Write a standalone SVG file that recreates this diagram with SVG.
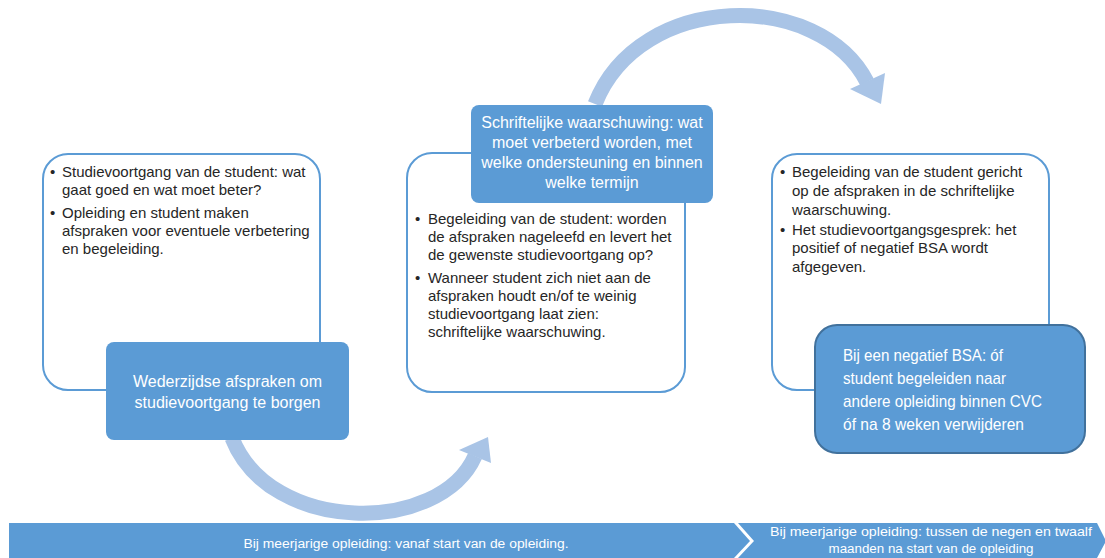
<svg xmlns="http://www.w3.org/2000/svg" width="1105" height="558" viewBox="0 0 1105 558">
<style>
.outline{fill:#fff;stroke:#5b9bd5;stroke-width:2}
.blue{fill:#5b9bd5}
.blue3{fill:#5b9bd5;stroke:#41719c;stroke-width:2}
.body{font-family:"Liberation Sans",Arial,sans-serif;font-size:15px;fill:#262626}
.wt{font-family:"Liberation Sans",Arial,sans-serif;font-size:16px;fill:#fff;text-anchor:middle}
.wn{font-family:"Liberation Sans",Arial,sans-serif;font-size:17px;fill:#fff}
.bar{font-family:"Liberation Sans",Arial,sans-serif;font-size:12px;fill:#fff;text-anchor:middle}
.arc{fill:none;stroke:#a9c4e6;stroke-width:15}
.head{fill:#a9c4e6}
</style>
<rect width="1105" height="558" fill="#fff"/>
<g id="connectors">
<path class="arc" d="M 232 438 C 270 535, 440 535, 475 456"/>
<polygon class="head" points="459,450 491,463 488,437"/>
<path class="arc" d="M 595 104 C 640 -10, 820 -10, 867 82"/>
<polygon class="head" points="850,89 885,73 881,104"/>
</g>
<g id="node1">
<rect class="outline" x="43" y="154" width="277" height="236" rx="25"/>
<text class="body"><tspan x="50" y="177">•</tspan><tspan x="62" y="177">Studievoortgang van de student: wat</tspan><tspan x="62" y="195">gaat goed en wat moet beter?</tspan><tspan x="50" y="218">•</tspan><tspan x="62" y="218">Opleiding en student maken</tspan><tspan x="62" y="236">afspraken voor eventuele verbetering</tspan><tspan x="62" y="254">en begeleiding.</tspan></text>
</g>
<g id="node1-label">
<rect class="blue" x="106" y="342" width="243" height="98" rx="8"/>
<text class="wt"><tspan x="227.5" y="387">Wederzijdse afspraken om</tspan><tspan x="227.5" y="408">studievoortgang te borgen</tspan></text>
</g>
<g id="node2">
<rect class="outline" x="407" y="153" width="278" height="239" rx="25"/>
<text class="body"><tspan x="415" y="224">•</tspan><tspan x="428" y="224">Begeleiding van de student: worden</tspan><tspan x="428" y="242">de afspraken nageleefd en levert het</tspan><tspan x="428" y="260">de gewenste studievoortgang op?</tspan><tspan x="415" y="283">•</tspan><tspan x="428" y="283">Wanneer student zich niet aan de</tspan><tspan x="428" y="301">afspraken houdt en/of te weinig</tspan><tspan x="428" y="319">studievoortgang laat zien:</tspan><tspan x="428" y="337">schriftelijke waarschuwing.</tspan></text>
</g>
<g id="node2-label">
<rect class="blue" x="471" y="105" width="242" height="98" rx="8"/>
<text class="wt"><tspan x="592" y="128">Schriftelijke waarschuwing: wat</tspan><tspan x="592" y="148">moet verbeterd worden, met</tspan><tspan x="592" y="168">welke ondersteuning en binnen</tspan><tspan x="592" y="188">welke termijn</tspan></text>
</g>
<g id="node3">
<rect class="outline" x="772" y="154" width="277" height="236" rx="25"/>
<text class="body"><tspan x="780" y="177">•</tspan><tspan x="792" y="177">Begeleiding van de student gericht</tspan><tspan x="792" y="196">op de afspraken in de schriftelijke</tspan><tspan x="792" y="215">waarschuwing.</tspan><tspan x="780" y="235">•</tspan><tspan x="792" y="235">Het studievoortgangsgesprek: het</tspan><tspan x="792" y="253">positief of negatief BSA wordt</tspan><tspan x="792" y="272">afgegeven.</tspan></text>
</g>
<g id="node4">
<rect class="blue3" x="815" y="325" width="270" height="128" rx="22"/>
<text class="wn"><tspan x="843" y="361" textLength="160" lengthAdjust="spacingAndGlyphs">Bij een negatief BSA: óf</tspan><tspan x="843" y="384" textLength="163" lengthAdjust="spacingAndGlyphs">student begeleiden naar</tspan><tspan x="843" y="407" textLength="199" lengthAdjust="spacingAndGlyphs">andere opleiding binnen CVC</tspan><tspan x="843" y="430" textLength="181" lengthAdjust="spacingAndGlyphs">óf na 8 weken verwijderen</tspan></text>
</g>
<g id="timeline1">
<polygon class="blue" points="9,523 734,523 750,541 734,558 9,558"/>
<text class="bar" x="406" y="548" textLength="325" lengthAdjust="spacingAndGlyphs">Bij meerjarige opleiding: vanaf start van de opleiding.</text>
</g>
<g id="timeline2">
<polygon class="blue" points="738,523 1097,523 1106,541 1097,558 738,558 754,541"/>
<text class="bar"><tspan x="931" y="536" textLength="322" lengthAdjust="spacingAndGlyphs">Bij meerjarige opleiding: tussen de negen en twaalf</tspan><tspan x="931" y="553" textLength="205" lengthAdjust="spacingAndGlyphs">maanden na start van de opleiding</tspan></text>
</g>
</svg>
